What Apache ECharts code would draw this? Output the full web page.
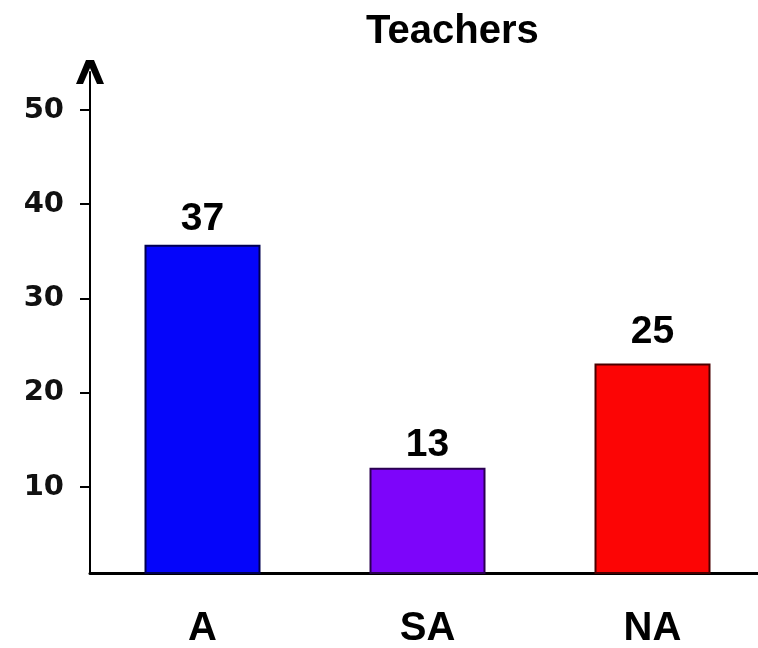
<!DOCTYPE html>
<html><head><meta charset="utf-8">
<script src="https://cdn.jsdelivr.net/npm/echarts@6/dist/echarts.min.js"></script>
<style>html,body{margin:0;padding:0;background:#fff}#c{width:758px;height:648px}</style>
</head><body><div id="c"></div>
<script>
const chartTitle = 'Teachers';
const categories = ['A', 'SA', 'NA'];
const barValues = [35.7, 12.05, 23.1];
const labelValues = [37, 13, 25];
const yTicks = [10, 20, 30, 40, 50];
const barColors = ['#0505fa', '#7d05fa', '#fc0505'];
const borderColors = ['#000050', '#2a0050', '#4a0000'];

const font = "'Liberation Sans', Arial, sans-serif";
const chart = echarts.init(document.getElementById('c'), null, {renderer: 'canvas'});
chart.setOption({
  animation: false,
  backgroundColor: '#ffffff',
  title: {
    text: chartTitle, left: 361, top: 7,
    textStyle: {fontFamily: font, fontWeight: 'bold', fontSize: 40, color: '#000'}
  },
  grid: {left: 90, top: 72, width: 675, height: 501, containLabel: false, outerBoundsMode: 'none'},
  xAxis: {
    type: 'category', data: categories,
    axisLine: {lineStyle: {color: '#000', width: 3}},
    axisTick: {show: false},
    axisLabel: {fontFamily: font, fontWeight: 'bold', fontSize: 40, color: '#000', margin: 36}
  },
  yAxis: {
    type: 'value', min: 0.875, max: 54.03,
    splitLine: {show: false},
    axisLine: {show: true, lineStyle: {color: '#000', width: 2},
      symbol: ['none', 'path://M0,24 L10,0 L18,0 L28,24 L21,24 L14,8 L7,24 Z'],
      symbolSize: [28, 24]},
    axisTick: {show: true, length: 10, lineStyle: {color: '#000', width: 2}, customValues: yTicks},
    axisLabel: {customValues: yTicks, fontFamily: 'DejaVu Sans', fontWeight: 'bold', fontSize: 29, color: '#111', margin: 26}
  },
  series: [
    {
      type: 'bar', barWidth: 116,
      data: barValues.map((v, i) => ({value: v, itemStyle: {color: barColors[i], borderColor: borderColors[i], borderWidth: 2}})),
      silent: true
    },
    {
      type: 'bar', barWidth: 116, barGap: '-100%',
      data: labelValues,
      itemStyle: {color: 'rgba(0,0,0,0)'},
      silent: true,
      label: {show: true, position: 'top', distance: -6, fontFamily: font, fontWeight: 'bold', fontSize: 39, color: '#000'}
    }
  ]
});
</script></body></html>
